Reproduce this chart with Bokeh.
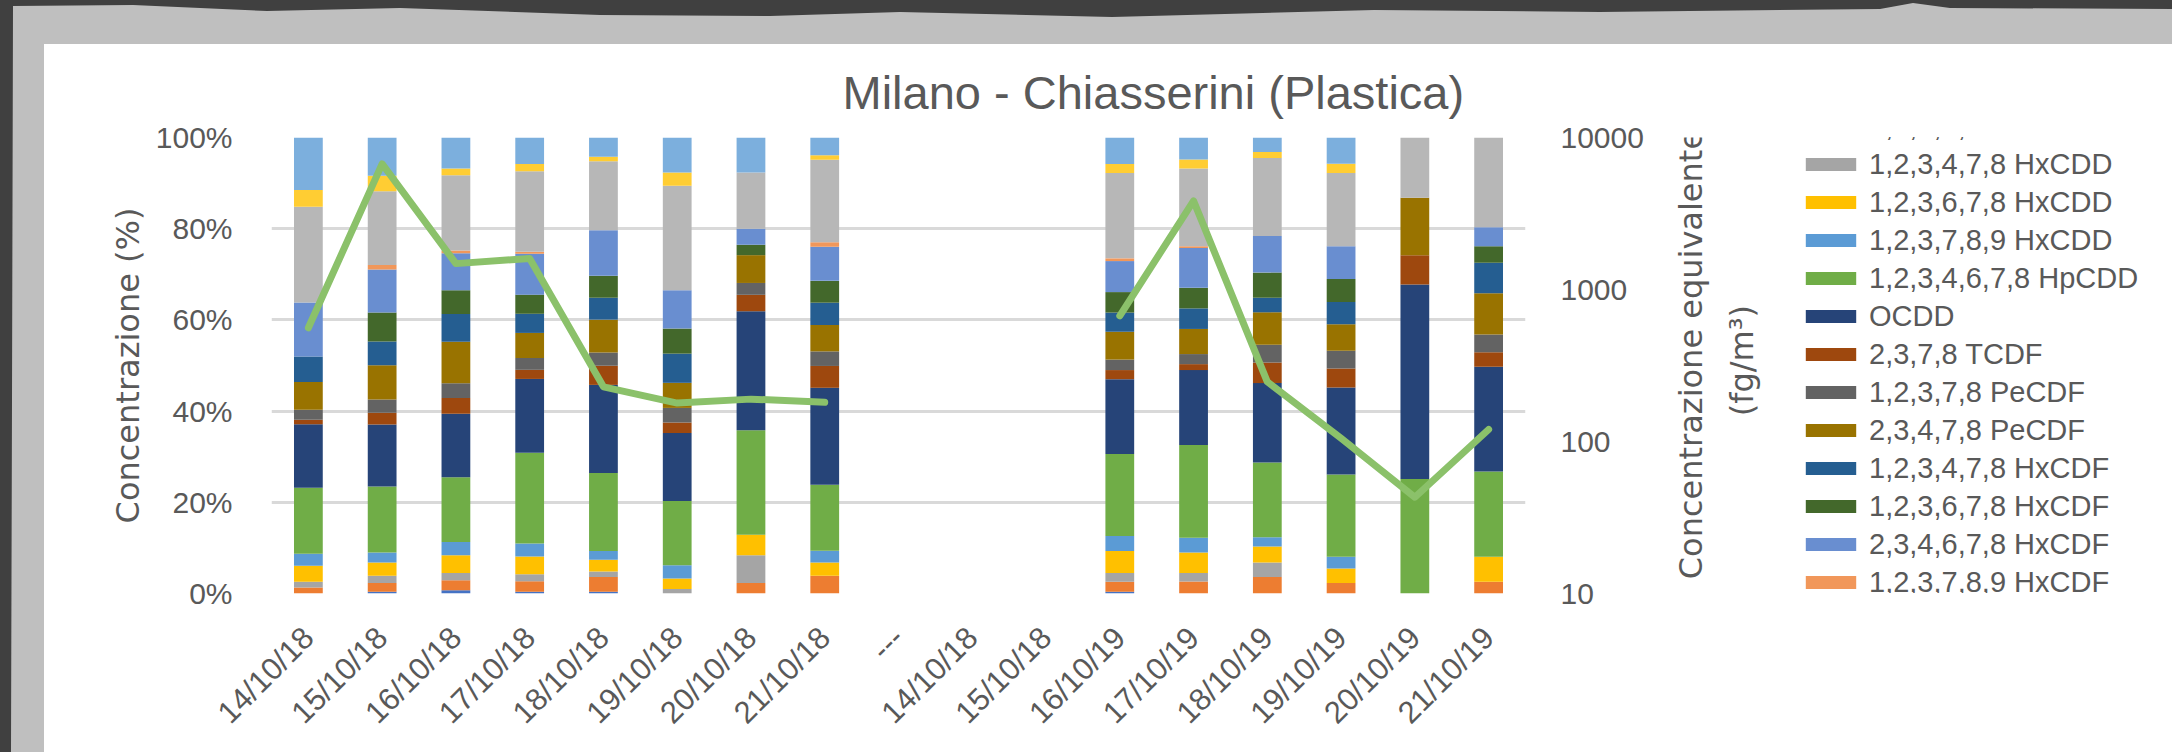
import math
from urllib.parse import quote

import numpy as np
from bokeh.embed import file_html
from bokeh.layouts import row
from bokeh.models import (ColumnDataSource, FixedTicker, Label, Legend, LegendItem,
                          LogAxis, LogScale, PrintfTickFormatter, Range1d, Title)
from bokeh.plotting import figure
from bokeh.resources import INLINE

# ---------------------------------------------------------------- data
categories = ["14/10/18", "15/10/18", "16/10/18", "17/10/18", "18/10/18", "19/10/18",
              "20/10/18", "21/10/18", "---", "14/10/18", "15/10/18", "16/10/19",
              "17/10/19", "18/10/19", "19/10/19", "20/10/19", "21/10/19"]
# category slots that hold a sample (the others are left empty)
sampled_slots = [0, 1, 2, 3, 4, 5, 6, 7, 11, 12, 13, 14, 15, 16]

compounds = ["2,3,7,8 TCDD", "1,2,3,7,8 PeCDD", "1,2,3,4,7,8 HxCDD", "1,2,3,6,7,8 HxCDD",
             "1,2,3,7,8,9 HxCDD", "1,2,3,4,6,7,8 HpCDD", "OCDD", "2,3,7,8 TCDF",
             "1,2,3,7,8 PeCDF", "2,3,4,7,8 PeCDF", "1,2,3,4,7,8 HxCDF", "1,2,3,6,7,8 HxCDF",
             "2,3,4,6,7,8 HxCDF", "1,2,3,7,8,9 HxCDF", "1,2,3,4,6,7,8 HpCDF",
             "1,2,3,4,7,8,9 HpCDF", "OCDF"]
colors = ["#4472C4", "#ED7D31", "#A5A5A5", "#FFC000", "#5B9BD5", "#70AD47", "#264478",
          "#9E480E", "#636363", "#997300", "#255E91", "#43682B", "#698ED0", "#F1975A",
          "#B7B7B7", "#FFCD33", "#7CAFDD"]

# share of each congener (%) per sample
tcdd_2378 = [0.0, 0.4, 0.7, 0.4, 0.4, 0.0, 0.0, 0.0, 0.4, 0.0, 0.0, 0.0, 0.0, 0.0]
pecdd_12378 = [1.3, 1.9, 2.2, 2.3, 3.2, 0.0, 2.3, 3.9, 2.2, 2.6, 3.6, 2.3, 0.0, 2.6]
hxcdd_123478 = [1.3, 1.6, 1.6, 1.5, 1.2, 1.0, 6.1, 0.0, 1.9, 1.9, 3.2, 0.0, 0.0, 0.0]
hxcdd_123678 = [3.5, 2.9, 3.9, 3.9, 2.6, 2.3, 4.5, 2.9, 4.8, 4.5, 3.5, 3.2, 0.0, 5.5]
hxcdd_123789 = [2.6, 2.2, 2.9, 2.9, 1.9, 2.9, 0.0, 2.6, 3.3, 3.2, 2.0, 2.6, 0.0, 0.0]
hpcdd_1234678 = [14.5, 14.5, 14.2, 19.9, 17.1, 14.1, 22.9, 14.5, 18.0, 20.3, 16.4, 18.1, 25.1, 18.7]
ocdd = [13.9, 13.6, 13.9, 16.2, 19.3, 14.9, 26.1, 21.3, 16.4, 16.4, 17.4, 19.1, 42.6, 23.0]
tcdf_2378 = [1.0, 2.6, 3.5, 2.0, 4.2, 2.3, 3.6, 4.8, 2.0, 1.3, 4.5, 4.2, 6.4, 3.2]
pecdf_12378 = [2.2, 2.9, 3.2, 2.6, 2.9, 3.2, 2.6, 3.2, 2.3, 2.2, 3.9, 3.9, 0.0, 3.9]
pecdf_23478 = [6.1, 7.5, 9.1, 5.5, 7.2, 5.5, 6.1, 5.8, 6.1, 5.5, 7.1, 5.8, 12.6, 9.1]
hxcdf_123478 = [5.6, 5.2, 6.1, 4.2, 4.8, 6.4, 0.0, 4.9, 4.2, 4.5, 3.2, 4.9, 0.0, 6.7]
hxcdf_123678 = [0.0, 6.4, 5.2, 4.2, 4.8, 5.5, 2.3, 4.8, 4.5, 4.5, 5.5, 5.1, 0.0, 3.6]
hxcdf_234678 = [11.8, 9.4, 8.1, 9.0, 10.0, 8.4, 3.5, 7.5, 6.8, 8.7, 8.0, 7.2, 0.0, 4.2]
hxcdf_123789 = [0.0, 1.0, 0.6, 0.4, 0.0, 0.0, 0.0, 1.0, 0.6, 0.4, 0.0, 0.0, 0.0, 0.0]
hpcdf_1234678 = [21.0, 16.2, 16.5, 17.7, 15.1, 22.9, 12.3, 18.1, 18.7, 17.0, 17.1, 16.1, 13.2, 19.7]
hpcdf_1234789 = [3.7, 3.4, 1.5, 1.6, 1.0, 2.9, 0.0, 1.0, 2.0, 2.0, 1.3, 2.0, 0.0, 0.0]
ocdf = [11.5, 8.4, 6.8, 5.8, 4.2, 7.7, 7.7, 3.9, 5.8, 4.8, 3.2, 5.8, 0.0, 0.0]

# total toxic equivalent concentration (fg/m3)
teq = [560, 6700, 1480, 1600, 229, 179, 190, 181, 671, 3830, 247, 105, 43, 120]

series = [tcdd_2378, pecdd_12378, hxcdd_123478, hxcdd_123678, hxcdd_123789, hpcdd_1234678,
          ocdd, tcdf_2378, pecdf_12378, pecdf_23478, hxcdf_123478, hxcdf_123678,
          hxcdf_234678, hxcdf_123789, hpcdf_1234678, hpcdf_1234789, ocdf]

# ---------------------------------------------------------------- styling
TXT = "#595959"
NUM_FONT = "Liberation Sans"
AX_FONT = "DejaVu Sans"
TEQ_COLOR = "#8BC16A"
W, H = 2172, 752
MAIN_W = 1650                      # chart part; the key panel fills the rest
LEFT, TOP, BOTTOM = 271, 137, 159
RIGHT = MAIN_W - 1525

# 100 % stacking: every sample is scaled to a total of 100
arr = np.array(series, dtype=float)
arr = arr / arr.sum(axis=0, keepdims=True) * 100.0
keys = [f"c{i}" for i in range(len(compounds))]
src = ColumnDataSource({"x": sampled_slots, **{k: arr[i] for i, k in enumerate(keys)}})

p = figure(width=MAIN_W, height=H, output_backend="svg", toolbar_location=None,
           x_range=Range1d(-0.5, len(categories) - 0.5), y_range=Range1d(0, 100),
           min_border_left=LEFT, min_border_right=RIGHT,
           min_border_top=TOP, min_border_bottom=BOTTOM)
p.border_fill_alpha = 0
p.background_fill_alpha = 0
p.outline_line_color = None

p.vbar_stack(keys, x="x", width=0.39, source=src, color=colors, line_color=None)

# TEQ on the secondary logarithmic axis, broken where no samples exist
p.extra_y_ranges = {"teq": Range1d(10, 10000)}
p.extra_y_scales = {"teq": LogScale()}
lx, ly = [], []
for i, (slot, v) in enumerate(zip(sampled_slots, teq)):
    if i and slot - sampled_slots[i - 1] > 1:
        lx.append(np.nan)
        ly.append(np.nan)
    lx.append(slot)
    ly.append(v)
p.line(lx, ly, y_range_name="teq", line_color=TEQ_COLOR, line_width=7,
       line_join="round", line_cap="round")

# axes
p.xgrid.visible = False
p.ygrid.ticker = FixedTicker(ticks=[0, 20, 40, 60, 80, 100])
p.ygrid.grid_line_color = "#D9D9D9"
p.ygrid.grid_line_width = 3

xa = p.xaxis[0]
xa.ticker = FixedTicker(ticks=list(range(len(categories))))
xa.major_label_overrides = {i: c for i, c in enumerate(categories)}
xa.major_label_orientation = math.pi / 4
xa.major_label_text_font = NUM_FONT
xa.major_label_text_font_size = "31px"
xa.major_label_text_color = TXT
xa.major_label_standoff = 33
xa.axis_line_color = None
xa.major_tick_line_color = None
xa.minor_tick_line_color = None

ya = p.yaxis[0]
ya.ticker = FixedTicker(ticks=[0, 20, 40, 60, 80, 100])
ya.formatter = PrintfTickFormatter(format="%d%%")
ya.major_label_text_font = NUM_FONT
ya.major_label_text_font_size = "30px"
ya.major_label_text_color = TXT
ya.major_label_standoff = 33
ya.axis_line_color = None
ya.major_tick_line_color = None
ya.minor_tick_line_color = None
ya.axis_label = "Concentrazione (%)"
ya.axis_label_text_font = AX_FONT
ya.axis_label_text_font_size = "32px"
ya.axis_label_text_font_style = "normal"
ya.axis_label_text_color = TXT
ya.axis_label_standoff = 6

ra = LogAxis(y_range_name="teq", ticker=FixedTicker(ticks=[10, 100, 1000, 10000]),
             formatter=PrintfTickFormatter(format="%d"))
ra.major_label_text_font = NUM_FONT
ra.major_label_text_font_size = "30px"
ra.major_label_text_color = TXT
ra.major_label_standoff = 29
ra.axis_line_color = None
ra.major_tick_line_color = None
ra.minor_tick_line_color = None
p.add_layout(ra, "right")

p.title = Title(text="Milano - Chiasserini (Plastica)", align="left", offset=571,
                text_font=NUM_FONT, text_font_size="47px", text_font_style="normal",
                text_color=TXT, standoff=38)

# ---------------------------------------------------------------- key panel
# page-pixel ranges (y grows downwards) so the key lines up with the chart
side = figure(width=W - MAIN_W, height=H, output_backend="svg", toolbar_location=None,
              x_range=Range1d(MAIN_W, W), y_range=Range1d(H, 0),
              x_axis_type=None, y_axis_type=None, min_border=0)
side.border_fill_alpha = 0
side.background_fill_alpha = 0
side.outline_line_color = None
side.grid.visible = False

# secondary axis title, reading bottom to top
for txt, cx, cy in [("Concentrazione equivalente", 1690, 358), ("(fg/m³)", 1741, 368)]:
    side.add_layout(Label(x=cx, y=cy, text=txt, angle=90, angle_units="deg",
                          text_align="center", text_baseline="middle", text_font=AX_FONT,
                          text_font_size="32px", text_color=TXT))

# key swatches: style-only renderers (a single NaN row, nothing is drawn in the panel)
items = []
for name, c in zip(compounds, colors):
    r = side.vbar(x=[np.nan], top=[np.nan], width=1, fill_color=c, line_color=None)
    items.append(LegendItem(label=name, renderers=[r]))
r = side.line(x=[np.nan], y=[np.nan], line_color=TEQ_COLOR, line_width=7)
items.append(LegendItem(label="TEQ", renderers=[r]))

legend = Legend(items=items, location=(1799 - MAIN_W, -160),
                orientation="vertical", glyph_width=63, glyph_height=16, label_height=38,
                spacing=0, label_standoff=7, padding=0, margin=0,
                label_text_font=NUM_FONT, label_text_font_size="29px",
                label_text_color=TXT, border_line_alpha=0, background_fill_alpha=0)
side.add_layout(legend, "center")

# paper frame behind the whole chart
frame_svg = (
    f"<svg xmlns='http://www.w3.org/2000/svg' width='{W}' height='{H}'>"
    f"<rect width='{W}' height='{H}' fill='#404040'/>"
    "<path d='M13,6 L133,5 L267,11 L400,8 L600,15 L770,16 L900,12 L1112,17 L1374,10 "
    "L1600,12 L1880,9 L1913,3 L1950,8 L2172,9 L2172,752 L11,752 L12,400 Z' fill='#bfbfbf'/>"
    f"<rect x='44' y='44' width='{W - 44}' height='{H - 44}' fill='#ffffff'/></svg>"
)
page = row(p, side, spacing=0,
           styles={"background-image": f'url("data:image/svg+xml,{quote(frame_svg)}")',
                   "background-repeat": "no-repeat", "width": f"{W}px", "height": f"{H}px"})

open("out.html", "w").write(file_html(page, INLINE))
